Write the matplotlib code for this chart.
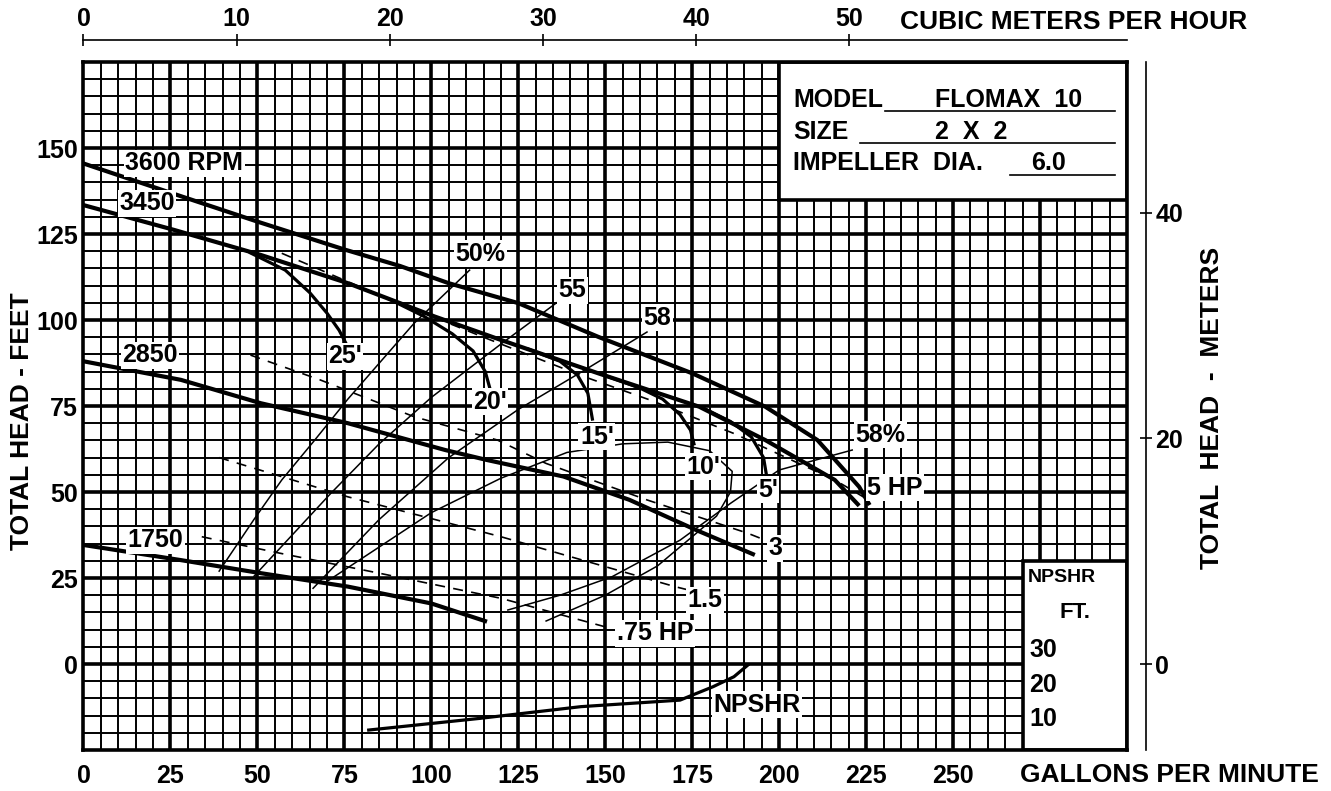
import numpy as np
import matplotlib
matplotlib.use('Agg')
import matplotlib.pyplot as plt
from matplotlib.patches import Rectangle

# head-capacity curves (GPM, feet)
q3600 = [0, 25, 50, 75, 91, 105, 125, 148, 175, 196, 211, 223, 226]
h3600 = [145.5, 137, 128.6, 120.5, 115.7, 110.7, 104.9, 95.1, 84.5, 74.8, 65.1, 51.5, 46.2]
q3450 = [0, 26, 51, 76, 91, 101, 120, 148, 177, 196, 216, 223]
h3450 = [133.4, 126.2, 118.9, 110.7, 104.9, 101, 94.2, 84.5, 74.8, 65.1, 53.5, 46]
q2850 = [0, 28, 51, 76, 104, 116, 138, 157, 176, 193]
h2850 = [88, 82.6, 75.8, 70, 62.2, 59.3, 54.5, 47.7, 39, 31.7]
q1750 = [0, 28, 51, 76, 100, 116]
h1750 = [34.6, 30.2, 26.4, 22.5, 17.6, 12.3]

# suction lift branches off the 3450 curve
lifts = {
    "25'": ([48, 58, 65, 70, 73.5, 75.3], [119.5, 114.5, 108, 102, 97, 93.5]),
    "20'": ([88, 98, 106, 112, 115.5, 117], [106, 101, 96, 91, 85, 79.5]),
    "15'": ([128, 137, 142, 145, 146.3], [91.5, 88, 84, 78.7, 71.2]),
    "10'": ([150, 160, 166.5, 171.5, 174.5, 175.5], [83.8, 80.2, 77, 72.5, 68, 64]),
    "5'": ([178, 186, 192, 195.5, 196.5], [74.5, 70.5, 66, 60, 54]),
}

# efficiency lines
eff50_q = [39, 49, 57, 66, 76, 95, 111]
eff50_h = [27, 42, 53.5, 64.5, 77, 99, 114.5]
eff55_q = [49, 71, 85, 100, 120, 136]
eff55_h = [25.5, 49.5, 64, 77.5, 93, 105]
eff58_q = [66, 85, 105, 125, 145, 162]
eff58_h = [22, 42, 60, 74, 86, 96.5]
eff58r_q = [122, 137, 152, 171.5, 186, 200, 221]
eff58r_h = [15.7, 20, 25.4, 36, 46.7, 56.4, 62.2]
loop_q = [70, 100, 120, 139, 155, 168, 180, 186.5, 186, 182, 175, 165, 150, 133]
loop_h = [24, 44, 54, 61.5, 64, 64.5, 62, 56, 50, 43, 37, 28.5, 20, 12.5]

# horsepower lines (dashed)
hp5_q = [57, 86, 115, 144, 163, 187, 216, 226]
hp5_h = [119.4, 106.8, 95, 83.5, 76.7, 67, 53.5, 47.5]
hp3_q = [48, 68, 95, 119, 133, 162, 191, 196]
hp3_h = [89.8, 82.6, 71.9, 65.1, 58.3, 47.7, 38, 36]
hp15_q = [39, 76, 120, 170, 176]
hp15_h = [60, 48.6, 37, 22.5, 21]
hp075_q = [34, 56.5, 85, 120, 150]
hp075_h = [37, 32.2, 26.4, 19.1, 10.8]

# NPSHR curve (GPM, NPSHR feet on its own scale)
npshr_q = [82, 114, 143, 171.5, 181, 187, 191]
npshr_ft = [5.8, 9.2, 12.6, 14.5, 18.4, 21.3, 24.7]
npshr_ticks = [30, 20, 10]

gpm_ticks = [0, 25, 50, 75, 100, 125, 150, 175, 200, 225, 250]
ft_ticks = [0, 25, 50, 75, 100, 125, 150]
m3h_ticks = [0, 10, 20, 30, 40, 50]
m_ticks = [0, 20, 40]

FS = 18
plt.rcParams['font.family'] = ['Liberation Sans', 'DejaVu Sans']
plt.rcParams['font.weight'] = 'bold'

W, H = 1331, 791
fig = plt.figure(figsize=(W / 100, H / 100), dpi=100)
ax = fig.add_axes([83.5 / W, 1 - 750 / H, (1127 - 83.5) / W, (750 - 62) / H])
ax.set_xlim(0, 300)
ax.set_ylim(-25, 175)

# grid
for x in range(5, 300, 5):
    ax.axvline(x, color='black', lw=2.6 if x % 25 == 0 else 1.4, zorder=1)
for y in range(-20, 175, 5):
    ax.axhline(y, color='black', lw=2.6 if y % 25 == 0 else 1.4, zorder=1)
for s in ax.spines.values():
    s.set_linewidth(2.6)

# white panels
ax.add_patch(Rectangle((200, 135), 100, 40, facecolor='white', edgecolor='black', lw=2.6, zorder=2))
ax.add_patch(Rectangle((270, -25), 30, 55, facecolor='white', edgecolor='black', lw=2.6, zorder=2))

# curves
for q, h in [(q3600, h3600), (q3450, h3450), (q2850, h2850), (q1750, h1750)]:
    ax.plot(q, h, color='black', lw=3.0, zorder=3, solid_capstyle='butt')
for q, h in lifts.values():
    ax.plot(q, h, color='black', lw=2.3, zorder=3)
for q, h in [(eff50_q, eff50_h), (eff55_q, eff55_h), (eff58_q, eff58_h),
             (eff58r_q, eff58r_h), (loop_q, loop_h)]:
    ax.plot(q, h, color='black', lw=1.1, zorder=3)
for q, h in [(hp5_q, hp5_h), (hp3_q, hp3_h), (hp15_q, hp15_h), (hp075_q, hp075_h)]:
    ax.plot(q, h, color='black', lw=1.2, ls=(0, (6, 5)), zorder=3)
ax.plot(npshr_q, np.array(npshr_ft) - 25, color='black', lw=2.3, zorder=3)

box = dict(facecolor='white', edgecolor='none', pad=1)
labels = [
    ('3600 RPM', 29, 145.6), ('3450', 18.3, 134), ('2850', 19.1, 89.8), ('1750', 20.6, 36),
    ('50%', 114, 119.2), ('55', 140.5, 108.7), ('58', 165, 100.6), ('58%', 229, 66.6),
    ("25'", 75.2, 89.5), ("20'", 116.9, 76.2), ("15'", 147.6, 66), ("10'", 178.1, 57.3),
    ("5'", 196.8, 50.6), ('5 HP', 233.3, 51.2), ('3', 198.8, 33.7), ('1.5', 178.7, 18.6),
    ('.75 HP', 164.3, 9), ('NPSHR', 193.6, -11.9),
]
for txt, x, y in labels:
    ax.text(x, y, txt, ha='center', va='center', fontsize=FS, bbox=box, zorder=5)

# model box
ax.text(204, 164, 'MODEL', fontsize=FS, va='center', zorder=5)
ax.text(204, 154.7, 'SIZE', fontsize=FS, va='center', zorder=5)
ax.text(204, 145.6, 'IMPELLER  DIA.', fontsize=FS, va='center', zorder=5)
ax.text(244.8, 164, 'FLOMAX  10', fontsize=FS, va='center', zorder=5)
ax.text(244.8, 154.7, '2  X  2', fontsize=FS, va='center', zorder=5)
ax.text(272.5, 145.6, '6.0', fontsize=FS, va='center', zorder=5)
ax.plot([230.4, 296.6], [160.8, 160.8], color='black', lw=1.2, zorder=5)
ax.plot([223.3, 296.6], [151.4, 151.4], color='black', lw=1.2, zorder=5)
ax.plot([266.4, 296.6], [142.2, 142.2], color='black', lw=1.2, zorder=5)

# NPSHR scale box
ax.text(281.3, 25, 'NPSHR', ha='center', va='center', fontsize=14, zorder=5)
ax.text(285, 15, 'FT.', ha='center', va='center', fontsize=16, zorder=5)
for v in npshr_ticks:
    ax.text(272, v - 26, str(v), ha='left', va='center', fontsize=FS, zorder=5)

# main ticks
ax.set_xticks(gpm_ticks)
ax.set_yticks(ft_ticks)
ax.tick_params(length=0, labelsize=FS)
ax.tick_params(axis='x', pad=10)
ax.tick_params(axis='y', pad=4)

# cubic meters per hour on top
top = ax.secondary_xaxis('top', functions=(lambda q: q / 4.403, lambda m: m * 4.403))
top.set_xticks(m3h_ticks)
top.spines['top'].set_position(('outward', 16))
top.spines['top'].set_linewidth(1.2)
top.tick_params(direction='inout', length=9, width=1.2, pad=2, labelsize=FS)

# meters on right
right = ax.secondary_yaxis('right', functions=(lambda f: f / 3.2808, lambda m: m * 3.2808))
right.set_yticks(m_ticks)
right.spines['right'].set_position(('outward', 14))
right.spines['right'].set_linewidth(1.2)
right.tick_params(direction='inout', length=9, width=1.2, pad=2, labelsize=FS)

fig.text(22 / W, 1 - 421 / H, 'TOTAL HEAD - FEET', rotation=90, ha='center', va='center', fontsize=FS + 1)
fig.text(1212 / W, 1 - 408 / H, 'TOTAL  HEAD  -  METERS', rotation=90, ha='center', va='center', fontsize=FS + 1)
fig.text(1020 / W, 1 - 775 / H, 'GALLONS PER MINUTE', ha='left', va='center', fontsize=FS + 1)
fig.text(900 / W, 1 - 22 / H, 'CUBIC METERS PER HOUR', ha='left', va='center', fontsize=FS + 1)

fig.savefig('out.png', dpi=100)
